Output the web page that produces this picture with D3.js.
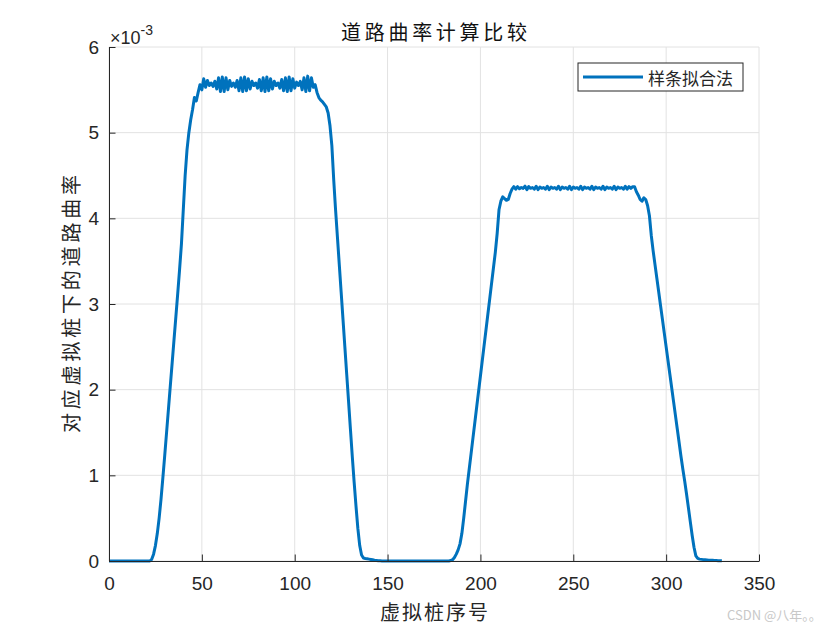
<!DOCTYPE html>
<html>
<head>
<meta charset="utf-8">
<script src="https://cdn.jsdelivr.net/npm/d3@7"></script>
<style>
  body { margin: 0; background: #fff; }
  svg { display: block; }
</style>
</head>
<body>
<script>
// curvature per virtual pile index 0..330, in units of 1e-3
var curvature = [
  0,0,0,0,0,0,0,0,0,0,
  0,0,0,0,0,0,0,0,0,0,
  0,0,0,0.02,0.08,0.18,0.32,0.5,0.72,0.97,
  1.23,1.5,1.77,2.04,2.31,2.58,2.85,3.12,3.4,3.7,
  4.1,4.5,4.8,5.0,5.15,5.27,5.41,5.37,5.47,5.56,
  5.50,5.63,5.53,5.61,5.55,5.58,5.54,5.60,5.51,5.64,
  5.48,5.65,5.48,5.64,5.50,5.61,5.54,5.58,5.53,5.61,
  5.49,5.64,5.48,5.65,5.49,5.63,5.51,5.60,5.55,5.58,
  5.52,5.62,5.49,5.64,5.48,5.65,5.49,5.63,5.51,5.60,
  5.55,5.58,5.52,5.62,5.49,5.64,5.48,5.65,5.49,5.63,
  5.52,5.59,5.55,5.60,5.50,5.64,5.48,5.66,5.49,5.64,
  5.53,5.56,5.47,5.41,5.38,5.36,5.33,5.30,5.23,5.08,
  4.85,4.45,4.1,3.78,3.46,3.14,2.82,2.5,2.18,1.86,
  1.54,1.22,0.92,0.64,0.38,0.18,0.07,0.035,0.03,0.026,
  0.022,0.018,0.014,0.01,0.007,0.004,0.002,0,0,0,
  0,0,0,0,0,0,0,0,0,0,
  0,0,0,0,0,0,0,0,0,0,
  0,0,0,0,0,0,0,0,0,0,
  0,0,0,0,0.005,0.015,0.04,0.08,0.13,0.2,
  0.32,0.5,0.7,0.9,1.08,1.26,1.44,1.62,1.8,1.98,
  2.16,2.34,2.52,2.7,2.88,3.06,3.24,3.42,3.6,3.82,
  4.1,4.2,4.25,4.23,4.21,4.22,4.29,4.34,4.37,4.34,
  4.37,4.345,4.36,4.35,4.375,4.335,4.37,4.35,4.36,4.34,
  4.375,4.335,4.365,4.35,4.36,4.34,4.375,4.335,4.365,4.35,
  4.36,4.34,4.375,4.335,4.365,4.35,4.36,4.34,4.375,4.335,
  4.365,4.35,4.36,4.34,4.375,4.335,4.365,4.35,4.36,4.34,
  4.375,4.335,4.365,4.35,4.36,4.34,4.375,4.335,4.365,4.35,
  4.36,4.34,4.375,4.335,4.365,4.35,4.36,4.34,4.375,4.34,
  4.37,4.35,4.37,4.37,4.31,4.27,4.22,4.20,4.24,4.22,
  4.15,4.03,3.80,3.62,3.46,3.30,3.14,2.98,2.82,2.66,
  2.50,2.34,2.18,2.02,1.86,1.70,1.54,1.38,1.22,1.07,
  0.93,0.78,0.62,0.46,0.30,0.16,0.06,0.03,0.022,0.019,
  0.016,0.014,0.012,0.01,0.009,0.008,0.006,0.005,0.004,0.003,
  0.002
];
var pileIndex = curvature.map(function(d, i) { return i; });

var xTicks = [0, 50, 100, 150, 200, 250, 300, 350];
var yTicks = [0, 1, 2, 3, 4, 5, 6];

var titleText = "道路曲率计算比较";
var xLabelText = "虚拟桩序号";
var yLabelText = "对应虚拟桩下的道路曲率";
var legendText = "样条拟合法";

var W = 840, H = 630;
var margin = { top: 47, right: 81, bottom: 69, left: 109 },
    width = W - margin.left - margin.right,
    height = H - margin.top - margin.bottom;

var axisColor = "#262626";
var lineColor = "#0072bd";
var cjk = "'Noto Sans CJK SC', sans-serif";
var num = "'Liberation Sans', Arial, sans-serif";

var root = d3.select("body").append("svg")
    .attr("width", W)
    .attr("height", H);

root.append("rect").attr("width", W).attr("height", H).attr("fill", "#fff");

var svg = root.append("g")
    .attr("transform", "translate(" + margin.left + "," + margin.top + ")");

var x = d3.scaleLinear().domain([0, 350]).range([0, width]);
var y = d3.scaleLinear().domain([0, 6]).range([height, 0]);

// grid
svg.append("g").selectAll("line.vg")
    .data(xTicks).enter().append("line")
    .attr("x1", function(d) { return x(d); })
    .attr("x2", function(d) { return x(d); })
    .attr("y1", 0).attr("y2", height)
    .attr("stroke", "#e2e2e2").attr("stroke-width", 1);
svg.append("g").selectAll("line.hg")
    .data(yTicks).enter().append("line")
    .attr("x1", 0).attr("x2", width)
    .attr("y1", function(d) { return y(d); })
    .attr("y2", function(d) { return y(d); })
    .attr("stroke", "#e2e2e2").attr("stroke-width", 1);

// curve
var line = d3.line()
    .x(function(d, i) { return x(pileIndex[i]); })
    .y(function(d) { return y(d); });

svg.append("path")
    .datum(curvature)
    .attr("d", line)
    .attr("fill", "none")
    .attr("stroke", lineColor)
    .attr("stroke-width", 3)
    .attr("stroke-linejoin", "round");

// axes
var xAxis = svg.append("g")
    .attr("transform", "translate(0," + height + ")")
    .call(d3.axisBottom(x).tickValues(xTicks).tickSizeInner(-6.5).tickSizeOuter(0).tickPadding(16));
var yAxis = svg.append("g")
    .call(d3.axisLeft(y).tickValues(yTicks).tickFormat(d3.format("d"))
        .tickSizeInner(-6.5).tickSizeOuter(0).tickPadding(10));

[xAxis, yAxis].forEach(function(a) {
    a.select(".domain").attr("stroke", axisColor).attr("stroke-width", 1);
    a.selectAll(".tick line").attr("stroke", axisColor);
    a.selectAll(".tick text")
        .attr("fill", axisColor)
        .style("font-family", num)
        .style("font-size", "19px");
});

// exponent label
var expo = svg.append("text")
    .attr("x", 1)
    .attr("y", -3)
    .attr("fill", axisColor)
    .style("font-family", num)
    .style("font-size", "18px");
expo.append("tspan").text("\u00d710");
expo.append("tspan").attr("dy", -9).style("font-size", "14px").text("-3");

// title
root.append("text")
    .attr("x", margin.left + width / 2)
    .attr("y", 31)
    .attr("text-anchor", "middle")
    .attr("dominant-baseline", "central")
    .attr("fill", "#111")
    .style("font-family", cjk)
    .style("font-size", "20px")
    .attr("textLength", 186)
    .attr("lengthAdjust", "spacing")
    .text(titleText);

// x label
root.append("text")
    .attr("x", margin.left + width / 2)
    .attr("y", 611)
    .attr("text-anchor", "middle")
    .attr("dominant-baseline", "central")
    .attr("fill", axisColor)
    .style("font-family", cjk)
    .style("font-size", "20px")
    .attr("textLength", 108)
    .attr("lengthAdjust", "spacing")
    .text(xLabelText);

// y label
root.append("text")
    .attr("transform", "translate(70," + (margin.top + height / 2) + ") rotate(-90)")
    .attr("text-anchor", "middle")
    .attr("dominant-baseline", "central")
    .attr("fill", axisColor)
    .style("font-family", cjk)
    .style("font-size", "20px")
    .attr("textLength", 258)
    .attr("lengthAdjust", "spacing")
    .text(yLabelText);

// legend
var lg = root.append("g").attr("transform", "translate(578,63)");
lg.append("rect")
    .attr("width", 165).attr("height", 28)
    .attr("fill", "#fff")
    .attr("stroke", axisColor).attr("stroke-width", 1);
lg.append("line")
    .attr("x1", 5).attr("x2", 65)
    .attr("y1", 14).attr("y2", 14)
    .attr("stroke", lineColor).attr("stroke-width", 2.8);
lg.append("text")
    .attr("x", 70).attr("y", 14)
    .attr("dominant-baseline", "central")
    .attr("fill", axisColor)
    .style("font-family", cjk)
    .style("font-size", "17px")
    .text(legendText);

// watermark
root.append("text")
    .attr("x", 727).attr("y", 614)
    .attr("dominant-baseline", "central")
    .attr("fill", "#c8c8c8")
    .style("font-family", cjk)
    .style("font-size", "13px")
    .text("CSDN @八年。。");
</script>
</body>
</html>
